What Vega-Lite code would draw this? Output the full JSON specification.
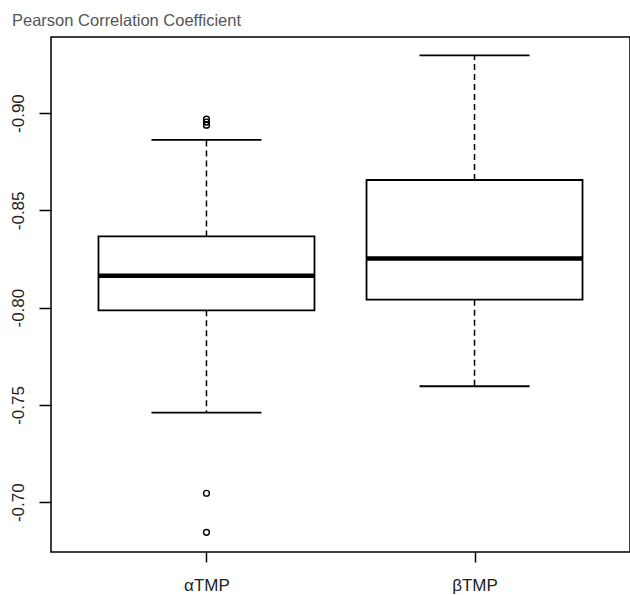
{
  "$schema": "https://vega.github.io/schema/vega-lite/v6.json",
  "width": 579,
  "height": 515,
  "autosize": "none",
  "padding": {"left": 51, "top": 37, "right": 0, "bottom": 43},
  "title": {"text": "Pearson Correlation Coefficient", "anchor": "start", "frame": "group", "dx": -39, "offset": 8, "font": "Liberation Sans", "fontSize": 16.5, "fontWeight": "normal", "color": "#555555"},
  "config": {"view": {"stroke": "#000000", "strokeWidth": 1.5}, "font": "Liberation Sans"},
  "datasets": {
    "stats": [
      {"group": "αTMP", "lower": -0.746, "q1": -0.7986, "median": -0.8164, "q3": -0.8366, "upper": -0.8862},
      {"group": "βTMP", "lower": -0.7596, "q1": -0.8041, "median": -0.8253, "q3": -0.8656, "upper": -0.9297}
    ],
    "outliers": [
      {"group": "αTMP", "value": -0.8969},
      {"group": "αTMP", "value": -0.8954},
      {"group": "αTMP", "value": -0.8938},
      {"group": "αTMP", "value": -0.7046},
      {"group": "αTMP", "value": -0.6845}
    ]
  },
  "layer": [
    {
      "data": {"name": "stats"},
      "mark": {"type": "rule", "color": "#000000", "strokeWidth": 1.5, "strokeDash": [6, 4]},
      "encoding": {
        "x": {"field": "group", "type": "nominal", "scale": {"type": "point", "padding": 0.58, "domain": ["αTMP", "βTMP"]},
          "axis": {"title": null, "labelAngle": 0, "domain": false, "grid": false, "tickSize": 10, "tickWidth": 1.5, "tickColor": "#000000", "labelFont": "Liberation Sans", "labelFontSize": 17, "labelColor": "#222222", "labelPadding": 15}},
        "y": {"field": "q3", "type": "quantitative", "scale": {"domain": [-0.9391, -0.6744], "reverse": true, "nice": false, "zero": false},
          "axis": {"title": null, "values": [-0.9, -0.85, -0.8, -0.75, -0.7], "labelExpr": "replace(format(datum.value, '.2f'), '−', '-')", "labelAngle": 270, "labelAlign": "center", "labelBaseline": "bottom", "labelPadding": 12, "tickSize": 12, "tickWidth": 1.5, "tickColor": "#000000", "domain": false, "grid": false, "labelFont": "Liberation Sans", "labelFontSize": 17, "labelColor": "#222222"}},
        "y2": {"field": "upper"}
      }
    },
    {
      "data": {"name": "stats"},
      "mark": {"type": "rule", "color": "#000000", "strokeWidth": 1.5, "strokeDash": [6, 4]},
      "encoding": {
        "x": {"field": "group", "type": "nominal"},
        "y": {"field": "q1", "type": "quantitative"},
        "y2": {"field": "lower"}
      }
    },
    {
      "data": {"name": "stats"},
      "mark": {"type": "tick", "color": "#000000", "thickness": 1.8, "size": 110, "opacity": 1},
      "encoding": {
        "x": {"field": "group", "type": "nominal"},
        "y": {"field": "upper", "type": "quantitative"}
      }
    },
    {
      "data": {"name": "stats"},
      "mark": {"type": "tick", "color": "#000000", "thickness": 1.8, "size": 110, "opacity": 1},
      "encoding": {
        "x": {"field": "group", "type": "nominal"},
        "y": {"field": "lower", "type": "quantitative"}
      }
    },
    {
      "data": {"name": "stats"},
      "mark": {"type": "bar", "fill": "#ffffff", "stroke": "#000000", "strokeWidth": 1.8, "size": 216},
      "encoding": {
        "x": {"field": "group", "type": "nominal"},
        "y": {"field": "q1", "type": "quantitative"},
        "y2": {"field": "q3"}
      }
    },
    {
      "data": {"name": "stats"},
      "mark": {"type": "tick", "color": "#000000", "thickness": 4.5, "size": 216, "opacity": 1},
      "encoding": {
        "x": {"field": "group", "type": "nominal"},
        "y": {"field": "median", "type": "quantitative"}
      }
    },
    {
      "data": {"name": "outliers"},
      "mark": {"type": "point", "shape": "circle", "filled": false, "color": "#000000", "size": 34, "strokeWidth": 1.4, "opacity": 1},
      "encoding": {
        "x": {"field": "group", "type": "nominal"},
        "y": {"field": "value", "type": "quantitative"}
      }
    }
  ]
}
